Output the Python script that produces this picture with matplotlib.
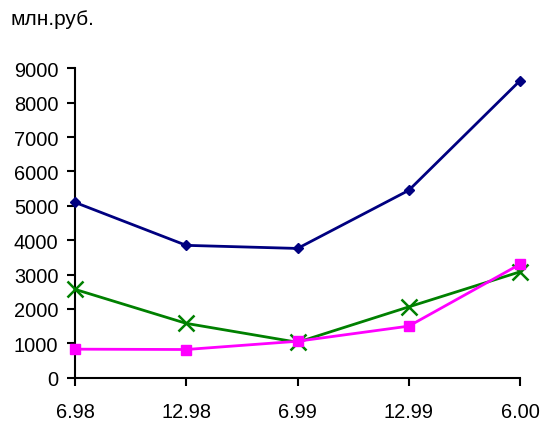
import matplotlib
matplotlib.use("Agg")
import matplotlib.pyplot as plt

categories = ["6.98", "12.98", "6.99", "12.99", "6.00"]
series_navy = [5100, 3850, 3760, 5450, 8640]
series_green = [2570, 1580, 1030, 2060, 3080]
series_magenta = [830, 820, 1060, 1500, 3300]
yticks = [0, 1000, 2000, 3000, 4000, 5000, 6000, 7000, 8000, 9000]

plt.rcParams['font.family'] = ['Liberation Sans', 'DejaVu Sans']

W, H = 544, 427
fig = plt.figure(figsize=(W/100, H/100), dpi=100)
ax = fig.add_axes([75/W, 1-378.7/H, (520-75)/W, (378.7-69.3)/H])

x = list(range(len(categories)))
ax.plot(x, series_navy, color="#000080", lw=2, marker="D", ms=5.5, clip_on=False, zorder=3)
ax.plot(x, series_green, color="#008000", lw=2, marker="x", ms=11, mew=1.8, clip_on=False, zorder=3)
ax.plot(x, series_magenta, color="#FF00FF", lw=2, marker="s", ms=7.5, clip_on=False, zorder=3)

ax.set_xlim(0, len(categories)-1)
ax.set_ylim(0, 9000)
ax.set_yticks(yticks)
ax.set_yticklabels([str(v) for v in yticks])
ax.set_xticks(x)
ax.set_xticklabels(categories)
for s in ["top", "right"]:
    ax.spines[s].set_visible(False)
for s in ["left", "bottom"]:
    ax.spines[s].set_linewidth(1.5)
ax.tick_params(axis="both", direction="out", length=5.5, width=1.5, labelsize=14.4, colors="black")
ax.tick_params(axis="y", pad=6.5)
ax.tick_params(axis="x", pad=12)

fig.text(10/W, 1-25/H, "млн.руб.", fontsize=15, va="baseline", ha="left")

fig.savefig("out.png", dpi=100)
